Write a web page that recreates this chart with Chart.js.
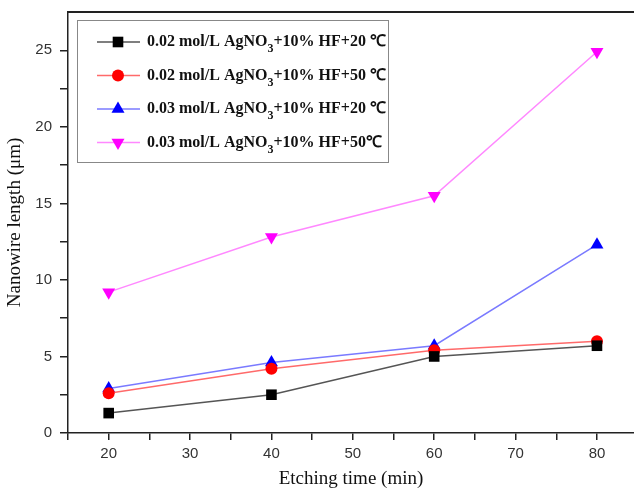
<!DOCTYPE html>
<html>
<head>
<meta charset="utf-8">
<script src="https://cdn.jsdelivr.net/npm/chart.js@4"></script>
<style>
  html, body { margin: 0; padding: 0; background: #fff; }
  #wrap { width: 634px; height: 490px; position: relative; }
</style>
</head>
<body>
<div id="wrap"><canvas id="chart"></canvas></div>
<script>
(function () {
    'use strict';

    // Etching time [min]
    var times = [20, 40, 60, 80];

    // Nanowire length [um]
    var len002_20 = [1.3, 2.5, 5.0, 5.7];
    var len002_50 = [2.6, 4.2, 5.4, 6.0];
    var len003_20 = [2.9, 4.6, 5.7, 12.3];
    var len003_50 = [9.2, 12.8, 15.5, 24.9];

    // Legend text: [before subscript, subscript, after]
    var labels = [
        ['0.02 mol/L AgNO', '3', '+10% HF+20 \u2103'],
        ['0.02 mol/L AgNO', '3', '+10% HF+50 \u2103'],
        ['0.03 mol/L AgNO', '3', '+10% HF+20 \u2103'],
        ['0.03 mol/L AgNO', '3', '+10% HF+50\u2103'],
    ];

    var xTicks = [15, 20, 25, 30, 35, 40, 45, 50, 55, 60, 65, 70, 75, 80];
    var yTicks = [0, 2.5, 5, 7.5, 10, 12.5, 15, 17.5, 20, 22.5, 25];

    function pts(ys) {
        return times.map(function (t, i) { return { x: t, y: ys[i] }; });
    }

    function series(label, ys, line, mark, style, radius, rot) {
        return {
            label: label,
            data: pts(ys),
            borderColor: line,
            borderWidth: 1.5,
            pointStyle: style,
            pointRadius: radius,
            pointRotation: rot,
            pointBackgroundColor: mark,
            pointBorderColor: mark,
            pointBorderWidth: 0,
            fill: false,
            tension: 0,
        };
    }

    // Legend box with subscript text, drawn on canvas
    var legendBox = {
        id: 'legendBox',
        afterDraw: function (chart) {
            var ctx = chart.ctx;
            var x0 = 77, y0 = 20, w = 311, h = 142;
            var big = 'bold 16px "Liberation Serif", "Times New Roman", serif';
            var small = 'bold 12px "Liberation Serif", "Times New Roman", serif';
            ctx.save();
            ctx.fillStyle = '#fff';
            ctx.fillRect(x0, y0, w, h);
            ctx.strokeStyle = '#888';
            ctx.lineWidth = 1;
            ctx.strokeRect(x0 + 0.5, y0 + 0.5, w, h);
            chart.data.datasets.forEach(function (ds, i) {
                var cy = 42 + i * 33.5;
                ctx.strokeStyle = ds.borderColor;
                ctx.lineWidth = 1.5;
                ctx.beginPath();
                ctx.moveTo(97, cy);
                ctx.lineTo(140, cy);
                ctx.stroke();
                ctx.fillStyle = ds.pointBackgroundColor;
                ctx.strokeStyle = ds.pointBorderColor;
                Chart.helpers.drawPoint(ctx, {
                    pointStyle: ds.pointStyle,
                    radius: ds.pointRadius,
                    rotation: ds.pointRotation,
                    borderWidth: 0,
                }, 118, cy);
                var parts = labels[i];
                var tx = 147;
                ctx.fillStyle = '#111';
                ctx.textBaseline = 'middle';
                ctx.font = big;
                ctx.fillText(parts[0], tx, cy);
                tx += ctx.measureText(parts[0]).width;
                ctx.font = small;
                ctx.fillText(parts[1], tx, cy + 7);
                tx += ctx.measureText(parts[1]).width;
                ctx.font = big;
                ctx.fillText(parts[2], tx, cy);
            });
            ctx.restore();
        },
    };

    var tickFont = { family: '"Liberation Sans", Arial, sans-serif', size: 15 };
    var titleFont = { family: '"Liberation Serif", "Times New Roman", serif', size: 19 };

    new Chart(document.getElementById('chart'), {
        type: 'line',
        data: {
            datasets: [
                series(labels[0].join(''), len002_20, '#555555', '#000000', 'rect', 7.5, 0),
                series(labels[1].join(''), len002_50, '#ff6a6a', '#ff0000', 'circle', 6, 0),
                series(labels[2].join(''), len003_20, '#7a7aff', '#0000ff', 'triangle', 7.5, 0),
                series(labels[3].join(''), len003_50, '#ff88ff', '#ff00ff', 'triangle', 7.5, 180),
            ],
        },
        options: {
            responsive: true,
            maintainAspectRatio: false,
            animation: false,
            layout: { autoPadding: false, padding: { top: 12, right: 0, left: 0, bottom: 0 } },
            plugins: {
                legend: { display: false },
                tooltip: { enabled: false },
            },
            scales: {
                x: {
                    type: 'linear',
                    min: 15,
                    max: 84.55,
                    afterBuildTicks: function (s) {
                        s.ticks = xTicks.map(function (v) { return { value: v }; });
                    },
                    afterFit: function (s) {
                        s.height = 57;
                        s.paddingLeft = 0;
                        s.paddingRight = 0;
                    },
                    grid: { drawOnChartArea: false, tickLength: 7, color: '#222', lineWidth: 1.5 },
                    border: { color: '#222', width: 1.5 },
                    ticks: {
                        color: '#333',
                        font: tickFont,
                        padding: 5,
                        maxRotation: 0,
                        autoSkip: false,
                        callback: function (v) { return (v % 10 === 0 && v >= 20) ? v : ''; },
                    },
                    title: { display: true, text: 'Etching time (min)', color: '#111', font: titleFont, padding: { top: 0, bottom: 0 } },
                },
                x2: {
                    type: 'linear',
                    position: 'top',
                    min: 15,
                    max: 84.55,
                    afterFit: function (s) {
                        s.height = 0;
                        s.paddingLeft = 0;
                        s.paddingRight = 0;
                    },
                    grid: { display: false },
                    border: { color: '#222', width: 2 },
                    ticks: { display: false },
                },
                y: {
                    min: 0,
                    max: 27.5,
                    afterBuildTicks: function (s) {
                        s.ticks = yTicks.map(function (v) { return { value: v }; });
                    },
                    afterFit: function (s) {
                        s.width = 68;
                        s.paddingTop = 0;
                        s.paddingBottom = 0;
                    },
                    grid: { drawOnChartArea: false, tickLength: 8, color: '#222', lineWidth: 1.5 },
                    border: { color: '#222', width: 1.5 },
                    ticks: {
                        color: '#333',
                        font: tickFont,
                        padding: 8,
                        autoSkip: false,
                        callback: function (v) { return v % 5 === 0 ? v : ''; },
                    },
                    title: { display: true, text: 'Nanowire length (\u03bcm)', color: '#111', font: titleFont, padding: { bottom: 0 } },
                },
            },
        },
        plugins: [legendBox],
    });
})();
</script>
</body>
</html>
